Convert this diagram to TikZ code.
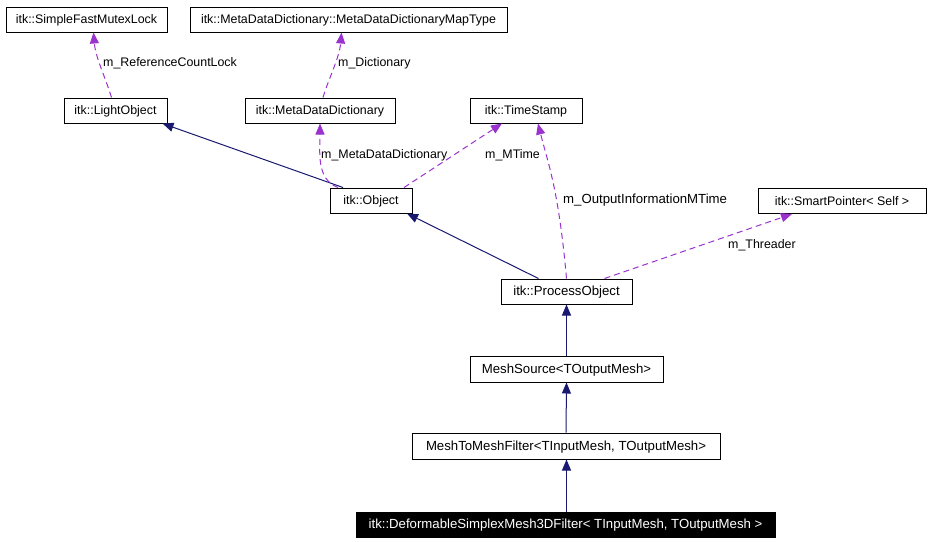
\documentclass[tikz,border=0pt]{standalone}
\usepackage{fontspec}
\setmainfont{Liberation Sans}
\usetikzlibrary{arrows.meta}
\definecolor{navyedge}{HTML}{191970}
\definecolor{purpedge}{HTML}{9A32CD}
\newcommand{\wider}{\fontsize{13.2}{14}\selectfont}
\tikzset{
  cls/.style={draw=black, line width=1pt, inner sep=0pt, minimum height=25pt, text height=8.9pt, text depth=0pt, font=\fontsize{12.4}{14}\selectfont},
  curcls/.style={cls, fill=black, text=white},
  inherit/.style={navyedge, line width=1pt, -{Triangle[length=11pt,width=9pt]}},
  member/.style={purpedge, line width=1pt, dash pattern=on 6pt off 4pt, -{Triangle[length=11pt,width=9pt]}},
  lbl/.style={anchor=west, inner sep=0pt, font=\fontsize{12.4}{14}\selectfont}
}
\begin{document}
\begin{tikzpicture}[x=1pt,y=-1pt]
\useasboundingbox (0,0) rectangle (931,541);
\node[cls, minimum width=161pt] (sfml) at (86.5,19.5) {itk::SimpleFastMutexLock};
\node[cls, minimum width=317pt] (mdmt) at (348.5,19.5) {itk::MetaDataDictionary::MetaDataDictionaryMapType};
\node[cls, minimum width=103pt] (light) at (115.5,110.5) {itk::LightObject};
\node[cls, minimum width=150pt] (mdd) at (320,110.5) {itk::MetaDataDictionary};
\node[cls, minimum width=112pt] (ts) at (526,110.5) {itk::TimeStamp};
\node[cls, minimum width=82pt] (obj) at (371,200.5) {itk::Object};
\node[cls, minimum width=168pt] (sp) at (842,201) {itk::SmartPointer< Self >};
\node[cls, minimum width=131pt, font=\wider] (po) at (566.5,291.5) {itk::ProcessObject};
\node[cls, minimum width=193pt, minimum height=26pt, font=\wider] (ms) at (566.5,369) {MeshSource<TOutputMesh>};
\node[cls, minimum width=308pt, minimum height=26pt, font=\wider] (mtm) at (566,446) {MeshToMeshFilter<TInputMesh, TOutputMesh>};
\node[curcls, minimum width=419pt, font=\wider] (dsm) at (565.5,524.5) {itk::DeformableSimplexMesh3DFilter< TInputMesh, TOutputMesh >};

% inheritance
\draw[inherit] (dsm.north -| mtm.south) ++(0.5,0) coordinate (d1) -- (d1 |- mtm.south);
\draw[inherit] (mtm.north) -- (ms.south);
\draw[inherit] (ms.north) -- (po.south);
\draw[inherit] ([xshift=-28]po.north) -- ([xshift=36]obj.south);
\draw[inherit] ([xshift=-28]obj.north) -- ([xshift=47]light.south);

% members
\draw[member] ([xshift=-4]light.north) .. controls +(-6,-20) and +(2,25) .. ([xshift=7]sfml.south);
\draw[member] ([xshift=3]mdd.north) .. controls +(6,-20) and +(-2,25) .. ([xshift=-7]mdmt.south);
\draw[member] ([xshift=-33]obj.north) .. controls +(-22,-8) and +(0,28) .. ([xshift=0]mdd.south);
\draw[member] ([xshift=33]obj.north) -- ([xshift=-24]ts.south);
\draw[member] (po.north) .. controls +(-8,-90) and +(10,40) .. ([xshift=12]ts.south);
\draw[member] ([xshift=38]po.north) -- ([xshift=-50]sp.south);

% labels
\node[lbl] (l1) at (103,63) {m\_ReferenceCountLock};
\node[lbl] (l2) at (338,63) {m\_Dictionary};
\node[lbl] (l3) at (321,155) {m\_MetaDataDictionary};
\node[lbl] (l4) at (485,155) {m\_MTime};
\node[lbl, font=\wider] (l5) at (563,200) {m\_OutputInformationMTime};
\node[lbl] (l6) at (728,245) {m\_Threader};
\end{tikzpicture}
\end{document}
